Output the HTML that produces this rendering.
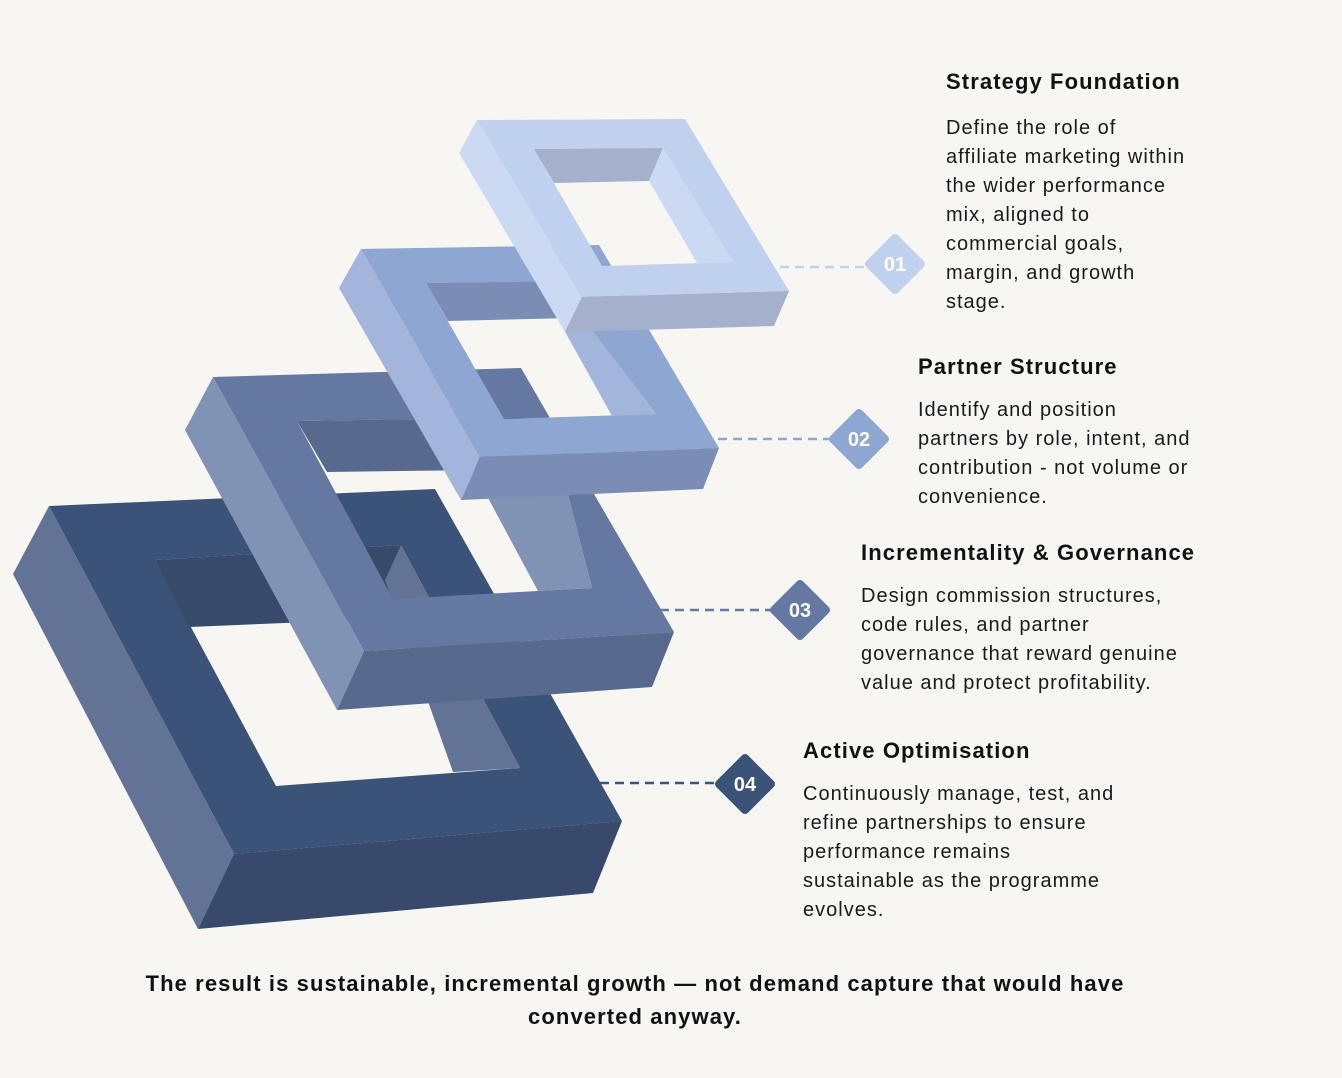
<!DOCTYPE html>
<html><head><meta charset="utf-8"><style>
html,body{margin:0;padding:0;}
body{width:1342px;height:1078px;background:#f7f6f3;position:relative;overflow:hidden;font-family:"Liberation Sans",sans-serif;color:#111;}
.t{position:absolute;font-weight:bold;font-size:22px;white-space:nowrap;letter-spacing:1.1px;}
.b{position:absolute;font-size:20px;line-height:29px;white-space:nowrap;color:#1a1a1a;letter-spacing:1px;}
.f{position:absolute;left:0;width:1270px;text-align:center;font-weight:bold;font-size:22px;line-height:33px;top:967px;letter-spacing:1.1px;}
</style></head><body>
<svg width="1342" height="1078" style="position:absolute;left:0;top:0">
<g>
<path fill-rule="evenodd" fill="#3b5279" d="M49,506 L435,489 L622,821 L234,854 Z M155,560 L401,545 L520,768 L276,786 Z"/>
<polygon fill="#38496c" points="155,560 401,545 430,617 189,627"/>
<polygon fill="#627396" points="401,545 520,768 453,772 385,580"/>
<polygon fill="#627396" points="49,506 234,854 198,929 13,574"/>
<polygon fill="#38496c" points="234,854 622,821 593,893 198,929"/>
</g>
<g>
<path fill-rule="evenodd" fill="#6478a2" d="M213,377 L521,368 L674,632 L364,651 Z M297,421 L548,417 L592,588 L393,599 Z"/>
<polygon fill="#58698e" points="297,421 548,417 561,469 327,472"/>
<polygon fill="#8193b5" points="548,417 592,588 538,591 487,496 520,469"/>
<polygon fill="#8193b5" points="213,377 364,651 337,710 185,430"/>
<polygon fill="#58698e" points="364,651 674,632 652,687 337,710"/>
</g>
<g>
<path fill-rule="evenodd" fill="#8da6d2" d="M361,249 L599,245 L719,448 L480,457 Z M426,283 L554,281 L656,414 L504,419 Z"/>
<polygon fill="#7b8cb5" points="426,283 554,281 572,318 448,321"/>
<polygon fill="#a3b5db" points="554,281 656,414 612,416 564,330"/>
<polygon fill="#a3b5db" points="361,249 480,457 461,500 339,288"/>
<polygon fill="#7b8cb5" points="480,457 719,448 703,489 461,500"/>
</g>
<g>
<path fill-rule="evenodd" fill="#c0d1f0" d="M477,120 L685,119 L789,291 L582,297 Z M534,149 L663,148 L733,262 L602,266 Z"/>
<polygon fill="#a4b0cc" points="534,149 663,148 649,181 554,183"/>
<polygon fill="#cbd9f3" points="663,148 733,262 697,263 649,181"/>
<polygon fill="#cbd9f3" points="477,120 582,297 565,332 459,153"/>
<polygon fill="#a4b0cc" points="582,297 789,291 774,326 565,332"/>
</g>
<g stroke-width="2.5" stroke-dasharray="9,6" fill="none">
<line x1="780" y1="267" x2="866" y2="267" stroke="#c0d1f0"/>
<line x1="718" y1="439" x2="830" y2="439" stroke="#8da6d2"/>
<line x1="660" y1="610" x2="772" y2="610" stroke="#6478a2"/>
<line x1="600" y1="783" x2="718" y2="783" stroke="#3b5279"/>
</g>
<g stroke-linejoin="round" stroke-width="8">
<polygon points="895,238 921,264 895,290 869,264" fill="#c0d1f0" stroke="#c0d1f0"/>
<polygon points="859,413 885,439 859,465 833,439" fill="#8da6d2" stroke="#8da6d2"/>
<polygon points="800,584 826,610 800,636 774,610" fill="#6478a2" stroke="#6478a2"/>
<polygon points="745,758 771,784 745,810 719,784" fill="#3b5279" stroke="#3b5279"/>
</g>
<g fill="#fff" font-family="Liberation Sans, sans-serif" font-weight="bold" font-size="20" text-anchor="middle">
<text x="895" y="271">01</text>
<text x="859" y="446">02</text>
<text x="800" y="617">03</text>
<text x="745" y="791">04</text>
</g>
</svg>
<div class="t" style="left:946px;top:69px">Strategy Foundation</div>
<div class="b" style="left:946px;top:114px">Define the role of<br>affiliate marketing within<br>the wider performance<br>mix, aligned to<br>commercial goals,<br>margin, and growth<br>stage.</div>
<div class="t" style="left:918px;top:354px">Partner Structure</div>
<div class="b" style="left:918px;top:396px">Identify and position<br>partners by role, intent, and<br>contribution - not volume or<br>convenience.</div>
<div class="t" style="left:861px;top:540px">Incrementality &amp; Governance</div>
<div class="b" style="left:861px;top:582px">Design commission structures,<br>code rules, and partner<br>governance that reward genuine<br>value and protect profitability.</div>
<div class="t" style="left:803px;top:738px">Active Optimisation</div>
<div class="b" style="left:803px;top:780px">Continuously manage, test, and<br>refine partnerships to ensure<br>performance remains<br>sustainable as the programme<br>evolves.</div>
<div class="f">The result is sustainable, incremental growth — not demand capture that would have<br>converted anyway.</div>
</body></html>
